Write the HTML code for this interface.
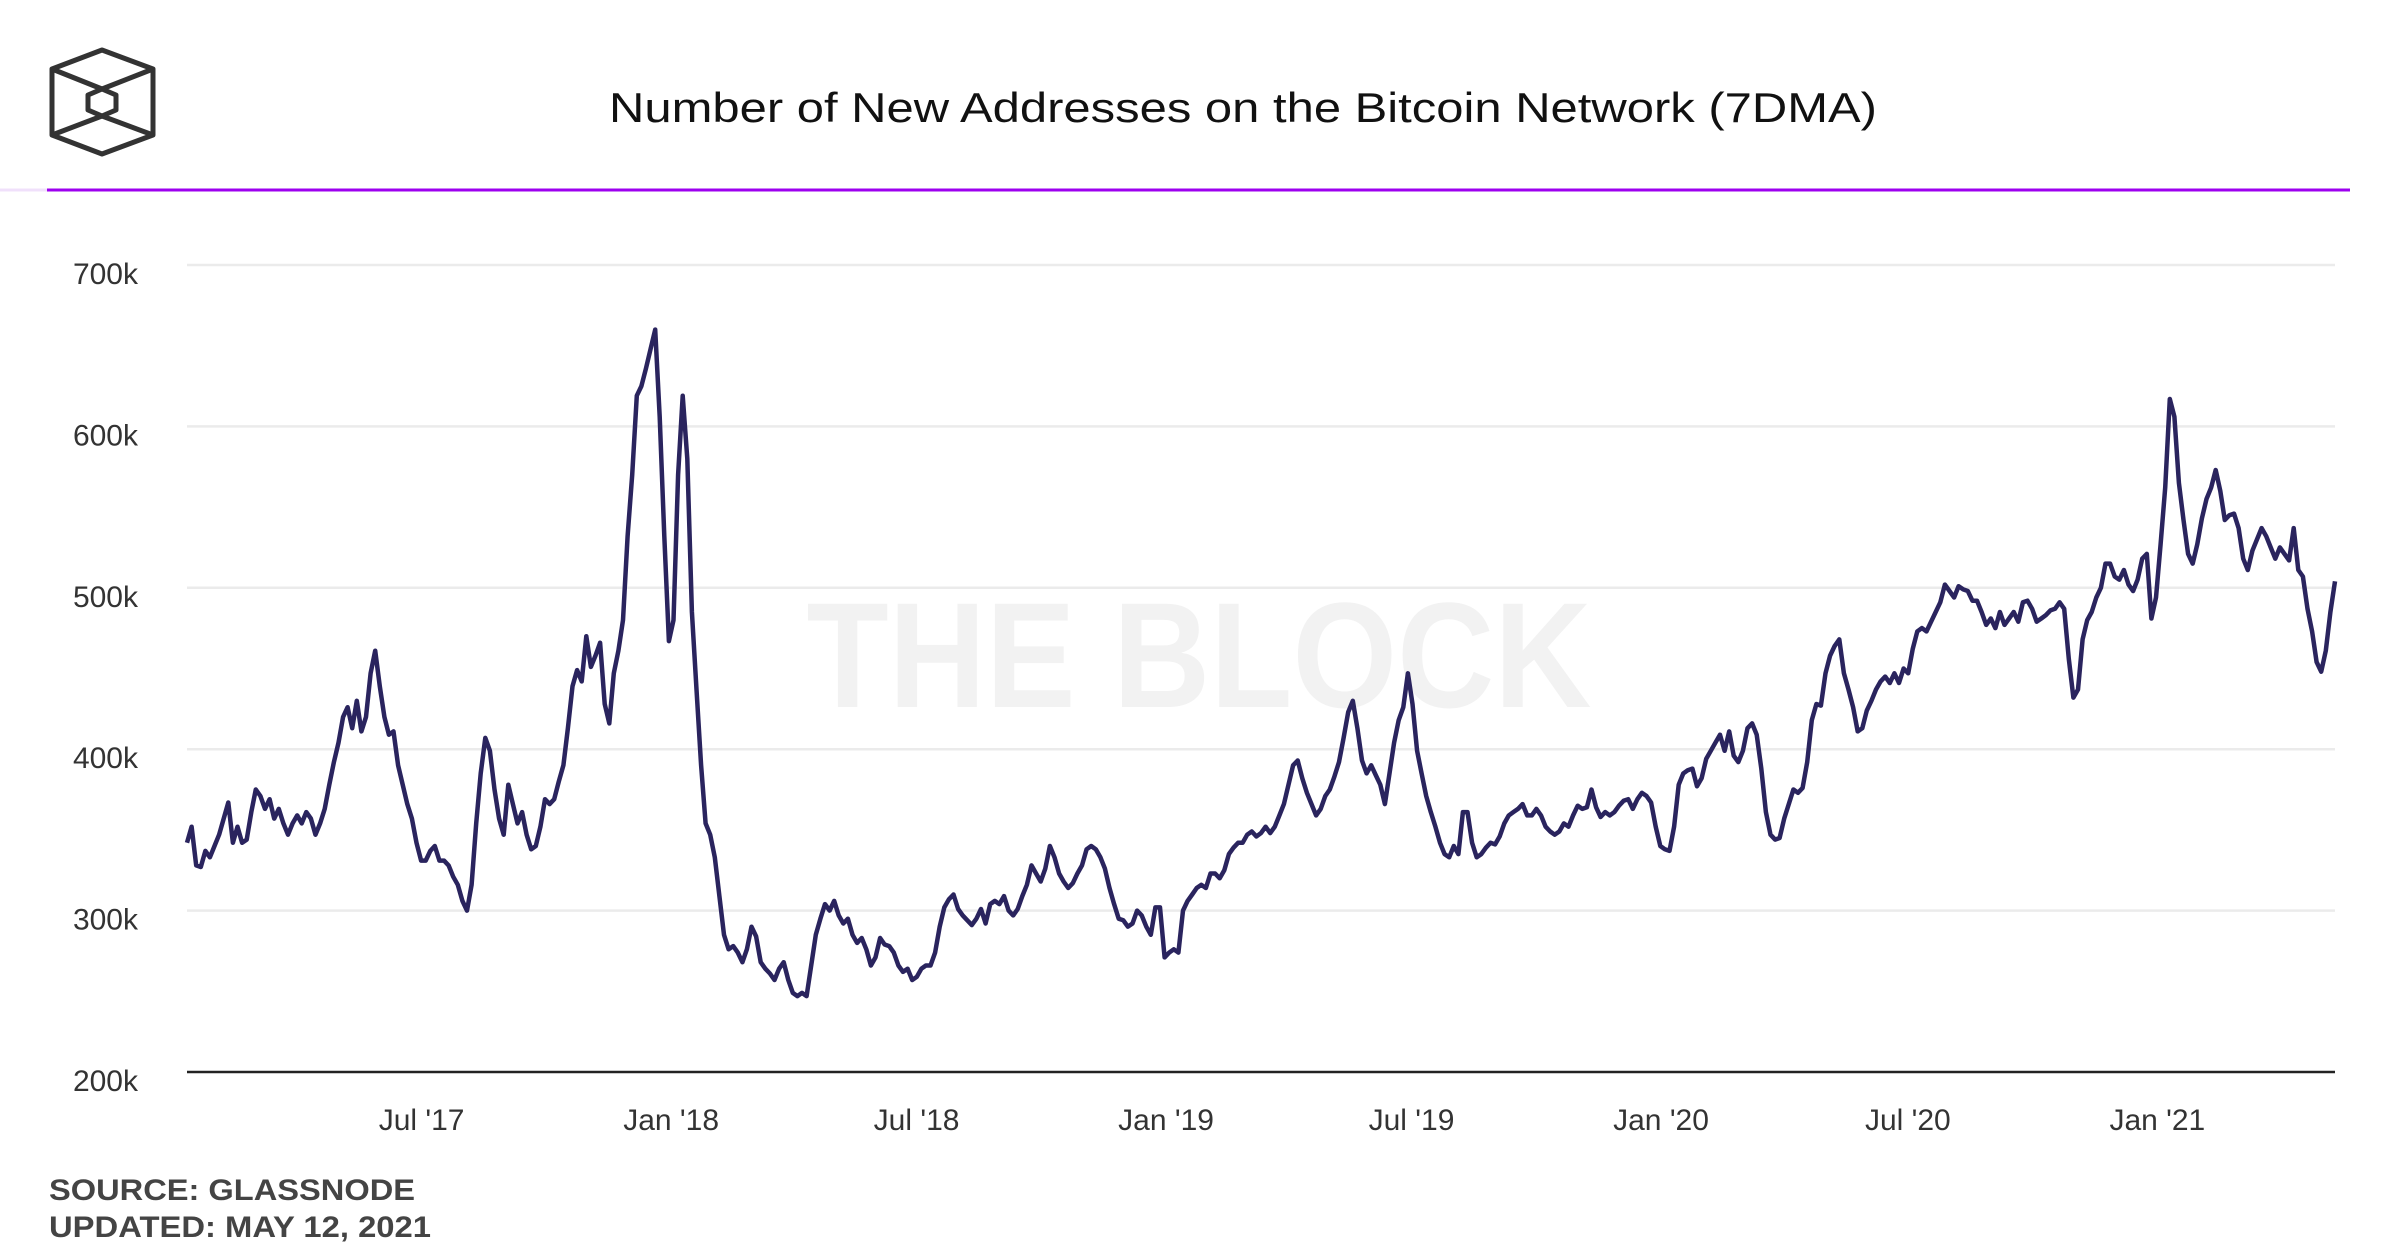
<!DOCTYPE html>
<html>
<head>
<meta charset="utf-8">
<style>
  html, body { margin: 0; padding: 0; background: #ffffff; }
  body { width: 2401px; height: 1260px; overflow: hidden; font-family: "Liberation Sans", sans-serif; }
  svg { display: block; }
</style>
</head>
<body>
<svg id="chart" width="2401" height="1260" viewBox="0 0 2401 1260" xmlns="http://www.w3.org/2000/svg">
  <g fill="none" stroke="#333333" stroke-width="5" stroke-linejoin="round">
    <polygon points="102,50 153,69 153,135 102,154 52,135 52,69"/>
    <polygon points="102,89 116,95 116,110 102,116 88,110 88,95"/>
    <line x1="52" y1="69" x2="102" y2="89"/>
    <line x1="153" y1="69" x2="102" y2="89"/>
    <line x1="52" y1="135" x2="102" y2="116"/>
    <line x1="153" y1="135" x2="102" y2="116"/>
  </g>
  <text x="1243" y="122" text-anchor="middle" font-family="Liberation Sans, sans-serif" font-size="42" fill="#111111" textLength="1268" lengthAdjust="spacingAndGlyphs">Number of New Addresses on the Bitcoin Network (7DMA)</text>
  <line x1="0" y1="190" x2="47" y2="190" stroke="#f0e0fb" stroke-width="3"/>
  <line x1="47" y1="190" x2="2350" y2="190" stroke="#9d00ef" stroke-width="3"/>
  <g id="grid"></g>
  <text x="1199" y="707" text-anchor="middle" font-family="Liberation Sans, sans-serif" font-weight="bold" font-size="150" fill="#f2f2f2" textLength="785" lengthAdjust="spacingAndGlyphs">THE BLOCK</text>
  <g id="yaxis"></g>
  <g id="xaxis"></g>
  <g id="series"></g>
  <text x="49" y="1200" font-family="Liberation Sans, sans-serif" font-weight="bold" font-size="30" fill="#444444" textLength="366" lengthAdjust="spacingAndGlyphs">SOURCE: GLASSNODE</text>
  <text x="49" y="1237" font-family="Liberation Sans, sans-serif" font-weight="bold" font-size="30" fill="#444444" textLength="382" lengthAdjust="spacingAndGlyphs">UPDATED: MAY 12, 2021</text>
</svg>
<script>
const yTicks = [200, 300, 400, 500, 600, 700];
const yTickLabels = ["200k", "300k", "400k", "500k", "600k", "700k"];
const xTickDates = ["2017-07-01", "2018-01-01", "2018-07-01", "2019-01-01", "2019-07-01", "2020-01-01", "2020-07-01", "2021-01-01"];
const xTickLabels = ["Jul '17", "Jan '18", "Jul '18", "Jan '19", "Jul '19", "Jan '20", "Jul '20", "Jan '21"];
const seriesStart = "2017-01-09";
const seriesEnd = "2021-05-12";
const newAddresses = [
342,352,328,327,337,333,340,347,357,367,342,352,342,344,361,375,371,363,369,357,363,354,347,354,359,354,361,357,347,354,
363,378,392,404,420,426,413,430,411,420,447,461,439,420,409,411,390,378,366,357,342,331,331,337,340,331,331,328,321,316,
306,300,316,354,385,407,399,375,357,347,378,366,354,361,347,338,340,352,369,366,369,380,390,413,439,449,442,470,451,458,
466,428,416,447,461,480,532,570,619,625,636,648,660,606,532,467,480,570,619,580,485,437,390,354,347,333,309,285,276,278,
274,268,276,290,284,268,264,261,257,264,268,257,249,247,249,247,266,285,295,304,300,306,297,292,295,285,280,283,276,266,
271,283,279,278,274,266,262,264,257,259,264,266,266,274,290,302,307,310,301,297,294,291,295,301,292,304,306,304,309,300,
297,301,309,316,328,323,318,326,340,333,323,318,314,317,323,328,338,340,338,333,326,314,304,295,294,290,292,300,297,290,
285,302,302,271,274,276,274,300,306,310,314,316,314,323,323,320,325,335,339,342,342,347,349,346,348,352,348,352,359,366,
378,390,393,382,373,366,359,363,371,375,383,392,407,423,430,413,393,385,390,384,378,366,385,404,418,426,447,428,399,385,
371,361,352,342,335,333,340,335,361,361,342,333,335,339,342,341,346,354,359,361,363,366,359,359,363,359,352,349,347,349,
354,352,359,365,363,364,375,364,358,361,359,361,365,368,369,363,369,373,371,367,352,340,338,337,352,378,385,387,388,377,
382,394,399,404,409,399,411,396,392,399,413,416,409,388,361,347,344,345,357,366,375,373,376,392,418,428,427,447,458,464,
468,447,437,426,411,413,424,430,437,442,445,441,447,441,450,447,462,473,475,473,479,485,491,502,498,494,501,499,498,492,
492,485,477,481,475,485,477,481,485,479,491,492,487,479,481,483,486,487,491,487,456,432,437,468,480,485,494,500,515,515,
507,505,511,502,498,505,518,521,481,494,527,562,617,606,565,542,521,515,527,543,555,562,573,560,542,545,546,537,518,511,
523,530,537,532,525,518,525,521,517,537,511,507,487,473,454,448,461,485,504
];

const svgNS = "http://www.w3.org/2000/svg";
const plotLeft = 187, plotRight = 2335, plotTop = 265, plotBottom = 1072;
const yMin = 200, yMax = 700;
const t0 = Date.parse(seriesStart), t1 = Date.parse(seriesEnd);
function xScale(t) { return plotLeft + (t - t0) / (t1 - t0) * (plotRight - plotLeft); }
function yScale(v) { return plotBottom - (v - yMin) / (yMax - yMin) * (plotBottom - plotTop); }

const grid = document.getElementById('grid');
const yaxis = document.getElementById('yaxis');
yTicks.forEach((v, i) => {
  const y = yScale(v);
  const ln = document.createElementNS(svgNS, 'line');
  ln.setAttribute('x1', plotLeft); ln.setAttribute('x2', plotRight);
  ln.setAttribute('y1', y); ln.setAttribute('y2', y);
  if (v === yMin) { ln.setAttribute('stroke', '#222222'); ln.setAttribute('stroke-width', '2.5'); }
  else { ln.setAttribute('stroke', '#ebebeb'); ln.setAttribute('stroke-width', '2.5'); }
  
  
  grid.appendChild(ln);
  const tx = document.createElementNS(svgNS, 'text');
  tx.setAttribute('x', 138); tx.setAttribute('y', y + 19);
  tx.setAttribute('text-anchor', 'end');
  tx.setAttribute('font-family', 'Liberation Sans, sans-serif');
  tx.setAttribute('font-size', '30'); tx.setAttribute('fill', '#333333');
  tx.textContent = yTickLabels[i];
  
  
  yaxis.appendChild(tx);
});

const xaxis = document.getElementById('xaxis');
xTickDates.forEach((d, i) => {
  const x = xScale(Date.parse(d));
  const tx = document.createElementNS(svgNS, 'text');
  tx.setAttribute('x', x); tx.setAttribute('y', 1130);
  tx.setAttribute('text-anchor', 'middle');
  tx.setAttribute('font-family', 'Liberation Sans, sans-serif');
  tx.setAttribute('font-size', '30'); tx.setAttribute('fill', '#333333');
  tx.textContent = xTickLabels[i];
  
  
  xaxis.appendChild(tx);
});

const n = newAddresses.length;
const pts = newAddresses.map((v, i) => {
  const t = t0 + (t1 - t0) * i / (n - 1);
  return xScale(t).toFixed(1) + ',' + yScale(v).toFixed(1);
});
const path = document.createElementNS(svgNS, 'polyline');
path.setAttribute('points', pts.join(' '));
path.setAttribute('fill', 'none');
path.setAttribute('stroke', '#2a245e');
path.setAttribute('stroke-width', '4.5');
path.setAttribute('stroke-linejoin', 'round');


document.getElementById('series').appendChild(path);
</script>
</body>
</html>
